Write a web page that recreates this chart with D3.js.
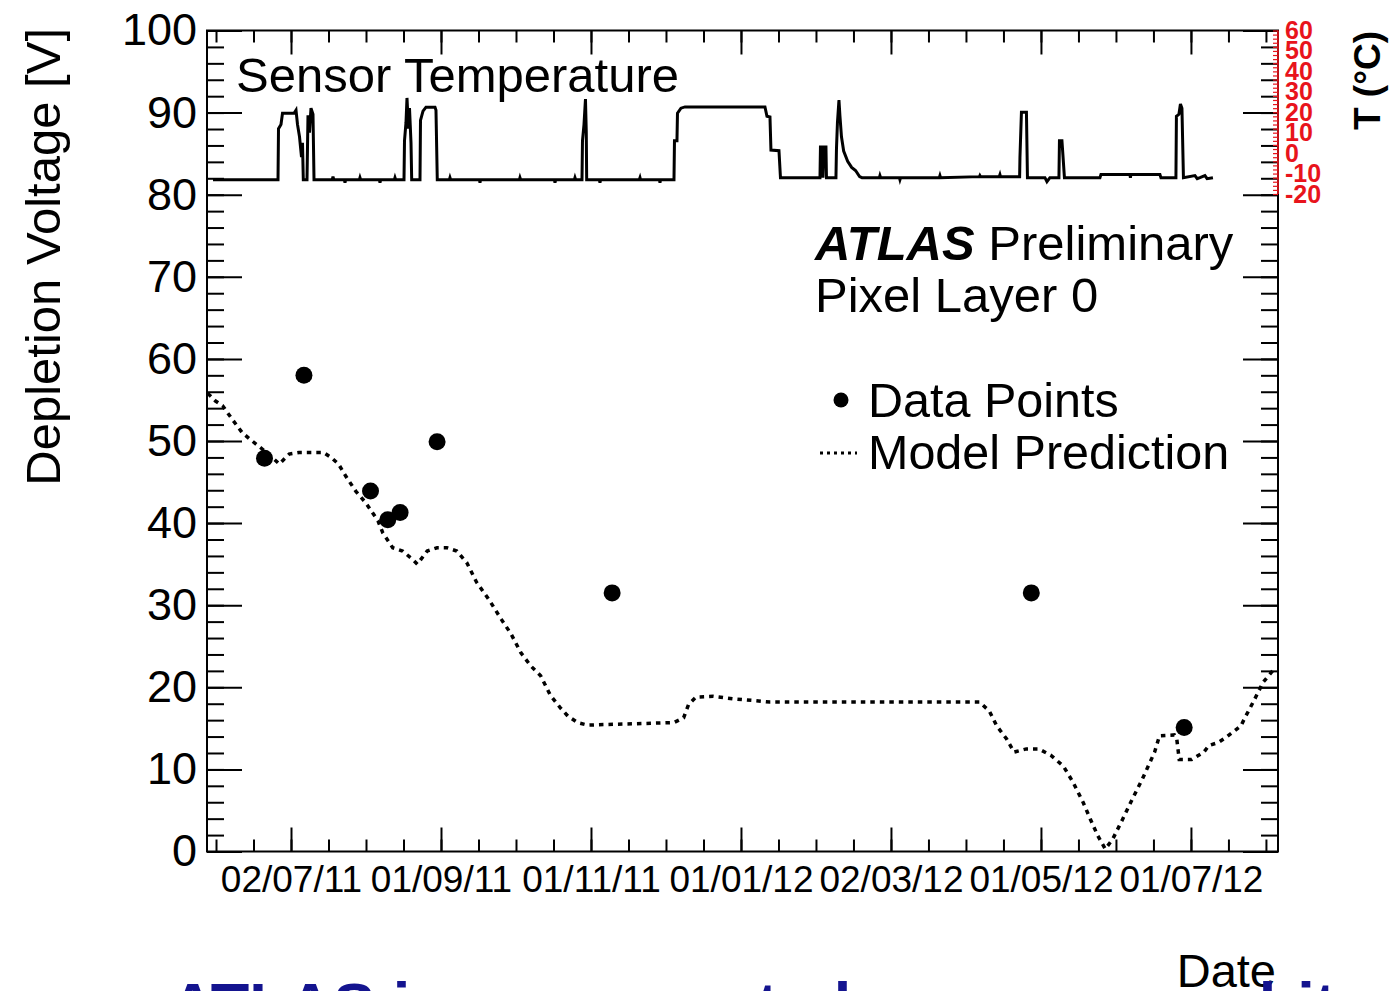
<!DOCTYPE html>
<html><head><meta charset="utf-8">
<script src="https://cdn.jsdelivr.net/npm/d3@7"></script>
<style>
html,body{margin:0;padding:0;background:#fff;overflow:hidden;}
svg{display:block;font-family:"Liberation Sans",Arial,Helvetica,sans-serif;}
</style></head><body>
<svg id="chart" width="1392" height="991"></svg>
<script>
// ---------------- data ----------------
const xTickLabels = ["02/07/11","01/09/11","01/11/11","01/01/12","02/03/12","01/05/12","01/07/12"];
const xTickFirst = "2011-07-02T18:00:00Z";
const xTickLast  = "2012-07-01T18:00:00Z";
const xDomain = ["2011-05-29T16:20:00Z","2012-08-06T01:25:00Z"];
const yTicks = [0,10,20,30,40,50,60,70,80,90,100];
const tempTicks = [-20,-10,0,10,20,30,40,50,60];

const pointDates  = ["2011-06-22","2011-07-08","2011-08-04","2011-08-11","2011-08-16","2011-08-31","2011-11-10","2012-04-28","2012-06-29"];
const pointValues = [47.9, 58.0, 43.9, 40.4, 41.3, 49.9, 31.5, 31.5, 15.1];

const modelDates = ["2011-05-30","2011-06-02","2011-06-05","2011-06-09","2011-06-13","2011-06-17","2011-06-22","2011-06-24","2011-06-28","2011-06-30",
  "2011-07-02","2011-07-06","2011-07-16","2011-07-19","2011-07-22","2011-07-25","2011-07-29","2011-08-02","2011-08-07","2011-08-09",
  "2011-08-13","2011-08-17","2011-08-21","2011-08-23","2011-08-27","2011-08-31","2011-09-04","2011-09-08","2011-09-12","2011-09-16",
  "2011-09-21","2011-09-26","2011-09-30","2011-10-04","2011-10-08","2011-10-12","2011-10-16","2011-10-20","2011-10-23","2011-10-27",
  "2011-10-31","2011-12-05","2011-12-09","2011-12-11","2011-12-14","2011-12-21","2011-12-29","2012-01-06","2012-01-13","2012-04-07",
  "2012-04-11","2012-04-14","2012-04-18","2012-04-21","2012-04-26","2012-05-01","2012-05-06","2012-05-11","2012-05-15","2012-05-19",
  "2012-05-22","2012-05-25","2012-05-28","2012-05-31","2012-06-04","2012-06-08","2012-06-12","2012-06-17","2012-06-19","2012-06-25",
  "2012-06-26","2012-06-27","2012-07-02","2012-07-07","2012-07-09","2012-07-13","2012-07-16","2012-07-22","2012-07-24","2012-07-27",
  "2012-07-31","2012-08-05"];
const modelValues = [55.8,54.9,54.3,52.6,51.0,50.0,48.8,48.3,47.2,47.8,
  48.4,48.6,48.6,48.0,47.2,45.7,43.9,42.5,40.3,38.8,
  37.0,36.6,35.6,35.0,36.6,37.0,37.0,36.6,35.2,32.8,
  30.7,28.3,26.5,24.2,22.6,21.4,19.0,17.5,16.5,15.7,
  15.4,15.7,16.3,17.9,18.8,18.9,18.6,18.4,18.2,18.2,
  17.1,15.3,13.7,12.1,12.5,12.5,11.7,10.4,8.4,6.0,
  3.9,1.9,0.3,1.5,3.9,6.4,8.8,12.1,14.1,14.2,
  13.7,11.2,11.2,12.1,12.9,13.3,13.9,15.3,16.5,18.2,
  20.6,22.4];

// sensor temperature: time in days since 2011-07-01 00:00 UTC, value in deg C
const tempEpoch = "2011-07-01T00:00:00Z";
const tempDays = [-29.88,-3.52,-3.32,-2.31,-1.70,2.97,3.78,4.39,5.20,6.01,6.41,6.74,8.24,8.64,9.25,9.86,10.67,11.08,
  18.5,18.78,19.1,23.4,23.65,23.9,29.5,29.73,30.0,37.6,37.84,38.1,43.7,43.93,44.2,
  47.58,47.78,48.39,48.79,49.40,49.81,50.42,50.70,54.07,54.27,55.28,56.50,60.15,60.55,61.08,
  66.0,66.23,66.5,78.2,78.40,78.6,94.4,94.62,94.9,108.6,108.82,109.1,116.7,116.93,117.2,
  119.77,119.97,120.58,121.18,121.51,121.67,126.8,127.06,127.3,143.0,143.29,143.5,151.2,151.40,151.6,
  157.08,157.28,158.29,158.50,159.91,161.54,193.98,194.79,196.01,196.41,199.66,200.27,
  216.29,216.49,217.10,217.50,217.91,218.72,218.92,222.77,222.98,223.38,223.99,224.40,225.01,225.90,227.52,229.14,230.72,232.35,233.32,
  240.4,240.62,240.9,248.5,248.73,249.0,264.7,264.95,265.2,281.0,281.17,281.4,289.0,289.28,289.5,
  297.27,297.40,298.00,300.03,300.44,307.53,308.35,309.56,
  313.21,313.42,314.43,314.83,315.44,329.84,330.25,342.0,342.2,342.4,354.17,354.58,
  360.66,360.86,361.88,362.49,363.10,363.71,368.37,369.3,370.39,372.42,373.3,375.67];
const tempValues = [-13,-13,12,14,19.5,19.5,21,14,8,-2,5,-13,-13,18.5,10,22,19,-13,
  -13,-11.5,-13,-13,-14.5,-13,-13,-12,-13,-13,-14.5,-13,-13,-12,-13,
  -13,6,15,27,12,22,5,-13,-13,16,20.5,22.5,22.5,21,-13,
  -13,-12,-13,-13,-14.5,-13,-13,-12,-13,-13,-14.5,-13,-13,-12,-13,
  -13,6,14,26.5,10,-13,-13,-14.5,-13,-13,-12,-13,-13,-14.5,-13,
  -13,6,6,19.5,22,22.6,22.6,18,17.7,1.5,1.2,-12,
  -12,3,3,-12,3,3,-12,-12,2,15,26,18,8,1,-4,-7,-8.5,-11.5,-12,
  -12,-11,-12,-12,-13,-12,-12,-11,-12,-11.5,-11,-11.5,-11.5,-10.5,-11.5,
  -11.5,-2,20,20,-12,-12,-14,-12,
  -12,6,6,-1,-12,-12,-10.5,-10.5,-12,-10.5,-10.5,-12,
  -12,18,19,24,22,-12,-11,-12.5,-12,-11,-12.5,-12];

// ---------------- drawing ----------------
const svg = d3.select("#chart");
const parseT = s => new Date(s.length <= 10 ? s + "T00:00:00Z" : s);
const X0 = 207, X1 = 1278, YB = 851.5, YT = 30.5;

const x = d3.scaleUtc().domain(xDomain.map(parseT)).range([X0, X1]);
const y = d3.scaleLinear().domain([0, 100]).range([YB, YT]);
const yT = d3.scaleLinear().domain([-20, 60]).range([194, YT]);

svg.append("rect").attr("width",1392).attr("height",991).attr("fill","#fff");

// x tick positions
const tA = parseT(xTickFirst).getTime(), tB = parseT(xTickLast).getTime();
const step = (tB - tA) / (xTickLabels.length - 1);
const majorX = xTickLabels.map((_, i) => new Date(tA + i * step));
const minorX = [];
const d0 = x.domain()[0].getTime(), d1 = x.domain()[1].getTime();
for (let t = tA - Math.floor((tA - d0) / (step/4)) * step/4; t <= d1; t += step/4) minorX.push(new Date(t));
const minorY = d3.range(0, 100.1, 2);

function styleAxis(g){
  g.select(".domain").remove();
  g.selectAll(".tick line").attr("stroke","#000").attr("stroke-width",2);
}

// bottom axis
svg.append("g").attr("transform",`translate(0,${YB})`)
  .call(d3.axisBottom(x).tickValues(minorX).tickSize(-12).tickFormat(""))
  .call(styleAxis);
const bx = svg.append("g").attr("transform",`translate(0,${YB})`)
  .call(d3.axisBottom(x).tickValues(majorX).tickSize(-24).tickPadding(14).tickFormat((d,i)=>xTickLabels[i]))
  .call(styleAxis);
bx.selectAll("text").attr("font-size",37).attr("fill","#000").attr("font-family","Liberation Sans, Arial, sans-serif");

// top axis
svg.append("g").attr("transform",`translate(0,${YT})`)
  .call(d3.axisTop(x).tickValues(minorX).tickSize(-12).tickFormat("")).call(styleAxis);
svg.append("g").attr("transform",`translate(0,${YT})`)
  .call(d3.axisTop(x).tickValues(majorX).tickSize(-24).tickFormat("")).call(styleAxis);

// left axis
svg.append("g").attr("transform",`translate(${X0},0)`)
  .call(d3.axisLeft(y).tickValues(minorY).tickSize(-17).tickFormat("")).call(styleAxis);
const ly = svg.append("g").attr("transform",`translate(${X0},0)`)
  .call(d3.axisLeft(y).tickValues(yTicks).tickSize(-35).tickPadding(10).tickFormat(d3.format("d")))
  .call(styleAxis);
ly.selectAll("text").attr("font-size",45).attr("fill","#000").attr("font-family","Liberation Sans, Arial, sans-serif");

// right axis
svg.append("g").attr("transform",`translate(${X1},0)`)
  .call(d3.axisRight(y).tickValues(minorY).tickSize(-17).tickFormat("")).call(styleAxis);
svg.append("g").attr("transform",`translate(${X1},0)`)
  .call(d3.axisRight(y).tickValues(yTicks).tickSize(-35).tickFormat("")).call(styleAxis);

// frame
svg.append("rect").attr("x",X0).attr("y",YT).attr("width",X1-X0).attr("height",YB-YT)
  .attr("fill","none").attr("stroke","#000").attr("stroke-width",2);

// temperature axis (red)
const red = "#e8141c";
const ta = svg.append("g").attr("transform",`translate(${X1},0)`);
ta.call(d3.axisLeft(yT).tickValues(d3.range(-20,60.1,2)).tickSize(5).tickFormat(""));
ta.select(".domain").remove();
ta.selectAll(".tick line").attr("stroke",red).attr("stroke-width",1.2);
ta.append("line").attr("x1",0).attr("x2",0).attr("y1",yT(-20)).attr("y2",yT(60)).attr("stroke",red).attr("stroke-width",1.6);
const tl = svg.append("g").attr("transform",`translate(${X1},0)`)
  .call(d3.axisRight(yT).tickValues(tempTicks).tickSize(0).tickPadding(7).tickFormat(d => String(d)));
tl.select(".domain").remove();
tl.selectAll("text").attr("font-size",25).attr("font-weight","bold").attr("fill",red)
  .attr("font-family","Liberation Sans, Arial, sans-serif");

// temperature curve
const tEpoch = parseT(tempEpoch).getTime();
const tempData = tempDays.map((d,i)=>({t:new Date(tEpoch + d*864e5), v:tempValues[i]}));
svg.append("path").datum(tempData)
  .attr("d", d3.line().x(d=>x(d.t)).y(d=>yT(d.v)))
  .attr("fill","none").attr("stroke","#000").attr("stroke-width",3).attr("stroke-linejoin","miter");

// model prediction
const modelData = modelDates.map((d,i)=>({t:parseT(d), v:modelValues[i]}));
svg.append("path").datum(modelData)
  .attr("d", d3.line().x(d=>x(d.t)).y(d=>y(d.v)))
  .attr("fill","none").attr("stroke","#000").attr("stroke-width",3.5).attr("stroke-dasharray","4.5 5");

// data points
svg.append("g").selectAll("circle").data(pointDates.map((d,i)=>({t:parseT(d), v:pointValues[i]})))
  .join("circle").attr("cx",d=>x(d.t)).attr("cy",d=>y(d.v)).attr("r",8.5).attr("fill","#000");

// texts
svg.append("text").attr("x",236).attr("y",92).attr("font-size",49).text("Sensor Temperature");
const at = svg.append("text").attr("x",815).attr("y",260).attr("font-size",49);
at.append("tspan").attr("font-weight","bold").attr("font-style","italic").text("ATLAS");
at.append("tspan").text(" Preliminary");
svg.append("text").attr("x",815).attr("y",312).attr("font-size",49).text("Pixel Layer 0");

// legend
svg.append("circle").attr("cx",841).attr("cy",400).attr("r",7.5).attr("fill","#000");
svg.append("text").attr("x",868).attr("y",417).attr("font-size",48.5).text("Data Points");
svg.append("line").attr("x1",820).attr("x2",857).attr("y1",453).attr("y2",453)
  .attr("stroke","#000").attr("stroke-width",3).attr("stroke-dasharray","3 4");
svg.append("text").attr("x",868).attr("y",469).attr("font-size",48.5).text("Model Prediction");

// axis titles
svg.append("text").attr("transform","translate(60,28) rotate(-90)").attr("text-anchor","end")
  .attr("font-size",49).text("Depletion Voltage [V]");
svg.append("text").attr("transform","translate(1380,31) rotate(-90)").attr("text-anchor","end")
  .attr("font-size",37).attr("font-weight","bold").text("T (°C)");
svg.append("text").attr("x",1276).attr("y",987).attr("text-anchor","end").attr("font-size",47).text("Date");

// slide text below (cut off by the picture edge)
svg.append("text").attr("x",170).attr("y",1027).attr("font-size",63).attr("font-weight","bold")
  .attr("fill","#14148f").text("ATLAS is now near to low, we never hit");
</script>
</body></html>
